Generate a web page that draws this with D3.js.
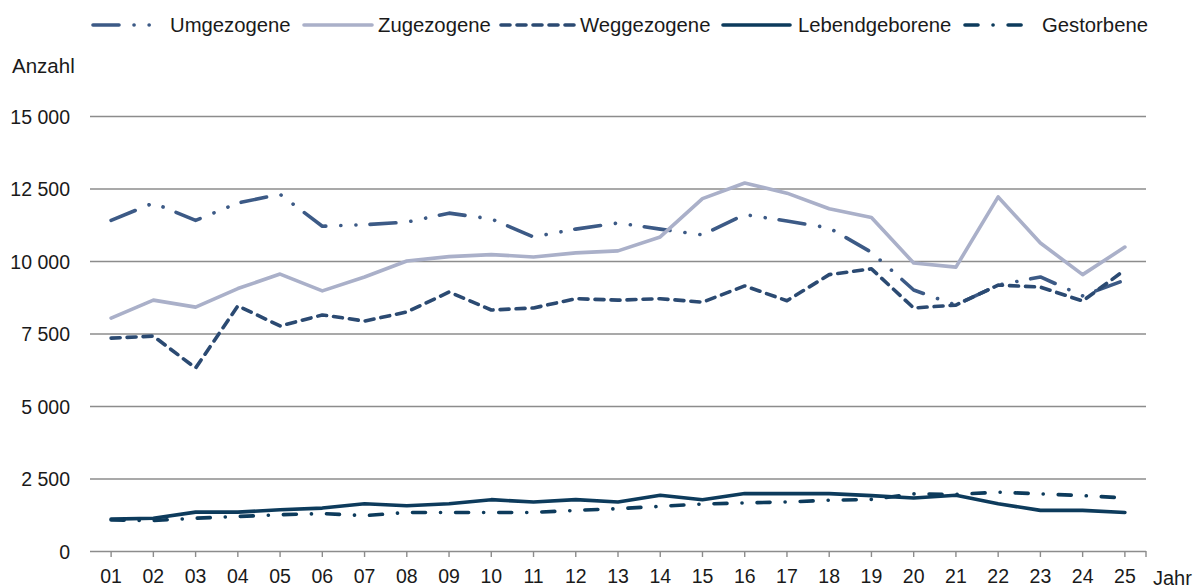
<html>
<head>
    <meta charset="utf-8">
    <title>Umgezogene, Zugezogene, Weggezogene, Lebendgeborene, Gestorbene</title>
    <script src="https://d3js.org/d3.v7.min.js"></script>
    <style>
        body { margin: 0; background: white; }
        text { font-family: "Liberation Sans", Arial, sans-serif; fill: #1a1a1a; }
    </style>
</head>
<body>
    <div id="chart"></div>
    <script>
        // data
        var years = ["01","02","03","04","05","06","07","08","09","10","11","12","13",
                     "14","15","16","17","18","19","20","21","22","23","24","25"];
        var umgezogene     = [11400,12000,11400,12000,12300,11200,11250,11340,11650,11450,10830,11100,11310,
                              11100,10900,11600,11380,11140,10300,9000,8480,9170,9450,8800,9340];
        var zugezogene     = [8030,8650,8410,9050,9550,8970,9450,10000,10150,10220,10140,10280,10350,
                              10830,12150,12690,12340,11800,11500,9930,9790,12210,10620,9530,10480];
        var weggezogene    = [7340,7410,6310,8450,7760,8140,7930,8240,8930,8310,8380,8700,8650,
                              8700,8580,9140,8630,9530,9730,8380,8480,9170,9100,8620,9690];
        var lebendgeborene = [1100,1130,1340,1340,1420,1480,1630,1560,1630,1770,1690,1770,1690,
                              1920,1770,1980,1980,1980,1910,1830,1920,1630,1400,1400,1330];
        var gestorbene     = [1070,1050,1130,1190,1250,1290,1220,1330,1330,1330,1330,1400,1460,
                              1540,1620,1660,1690,1750,1780,1970,1950,2030,1970,1910,1830];
        var yTicks = [0, 2500, 5000, 7500, 10000, 12500, 15000];

        var chart_w = 1197, chart_h = 588;
        var plot_left = 90, plot_right = 1146, plot_top = 116, plot_bottom = 551;

        var series = [
            {name: "Umgezogene",     values: umgezogene,     color: "#3c5a86", dash: "26,15,0.1,15,0.1,14"},
            {name: "Zugezogene",     values: zugezogene,     color: "#aab0c9", dash: null},
            {name: "Weggezogene",    values: weggezogene,    color: "#2b4a72", dash: "9,7"},
            {name: "Lebendgeborene", values: lebendgeborene, color: "#0d3b5c", dash: null},
            {name: "Gestorbene",     values: gestorbene,     color: "#0d3b5c", dash: "13,15,0.1,15"}
        ];

        var svg = d3.select("#chart").append("svg")
            .attr("width", chart_w)
            .attr("height", chart_h);

        var x = d3.scaleBand().domain(years).range([plot_left, plot_right]);
        var y = d3.scaleLinear().domain([0, 15000]).range([plot_bottom, plot_top]);
        var fmt = d3.formatLocale({decimal: ",", thousands: " ", grouping: [3], currency: ["", " €"]}).format(",d");

        // grid lines and y labels
        var yAxis = svg.append("g")
            .attr("transform", "translate(" + plot_left + ",0)")
            .call(d3.axisLeft(y).tickValues(yTicks).tickSize(-(plot_right - plot_left)).tickPadding(20).tickFormat(fmt));
        yAxis.select(".domain").remove();
        yAxis.selectAll(".tick line").attr("stroke", "#8c8c8c").attr("stroke-width", 1.6);
        yAxis.selectAll(".tick text")
            .attr("font-size", 19.5)
            .attr("x", -20)
            .attr("dy", "0.36em")
            .style("font-family", "'Liberation Sans', Arial, sans-serif")
            .attr("fill", "#1a1a1a");

        // x axis
        var xAxis = svg.append("g")
            .attr("transform", "translate(0," + plot_bottom + ")")
            .call(d3.axisBottom(x).tickSizeOuter(0).tickSize(6).tickPadding(12));
        xAxis.select(".domain").remove();
        xAxis.selectAll(".tick line").attr("stroke", "#8c8c8c").attr("stroke-width", 1.4);
        xAxis.selectAll(".tick text")
            .attr("font-size", 19.5)
            .style("font-family", "'Liberation Sans', Arial, sans-serif")
            .attr("fill", "#1a1a1a");
        svg.append("line")
            .attr("x1", plot_right).attr("x2", plot_right)
            .attr("y1", plot_bottom).attr("y2", plot_bottom + 6)
            .attr("stroke", "#8c8c8c").attr("stroke-width", 1.4);

        svg.append("text").attr("x", 12).attr("y", 73).attr("font-size", 20.5).text("Anzahl");
        svg.append("text").attr("x", 1153).attr("y", 585).attr("font-size", 20).text("Jahr");

        // lines
        var line = d3.line()
            .x(function(d, i){ return x(years[i]) + x.bandwidth() / 2; })
            .y(function(d){ return y(d); });

        series.forEach(function(s){
            svg.append("path")
                .attr("d", line(s.values))
                .attr("fill", "none")
                .attr("stroke", s.color)
                .attr("stroke-width", 3.6)
                .attr("stroke-linecap", "round")
                .attr("stroke-linejoin", "round")
                .attr("stroke-dasharray", s.dash);
        });

        // legend
        var legendPos = [{x1: 93, x2: 160, tx: 170},
                         {x1: 304, x2: 372, tx: 378},
                         {x1: 501, x2: 574, tx: 580},
                         {x1: 723, x2: 790, tx: 798},
                         {x1: 965, x2: 1026, tx: 1042}];
        series.forEach(function(s, i){
            var p = legendPos[i];
            svg.append("line")
                .attr("x1", p.x1).attr("x2", p.x2)
                .attr("y1", 25).attr("y2", 25)
                .attr("stroke", s.color)
                .attr("stroke-width", 3.6)
                .attr("stroke-linecap", "round")
                .attr("stroke-dasharray", s.dash);
            svg.append("text")
                .attr("x", p.tx).attr("y", 32)
                .attr("font-size", 20.3)
                .text(s.name);
        });
    </script>
</body>
</html>
